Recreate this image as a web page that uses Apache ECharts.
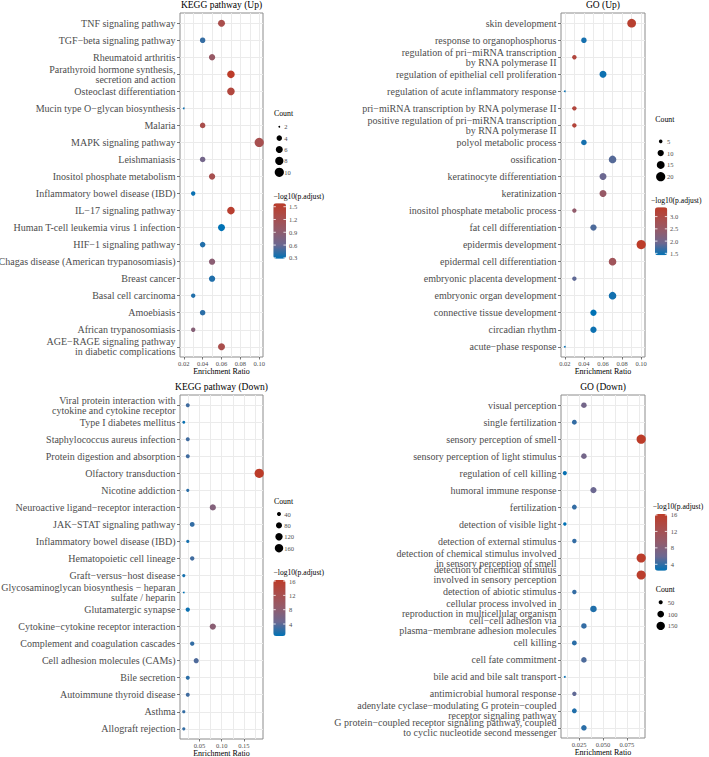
<!DOCTYPE html>
<html><head><meta charset="utf-8">
<script src="https://cdn.jsdelivr.net/npm/echarts@6/dist/echarts.min.js"></script>
<style>html,body{margin:0;padding:0;background:#fff}#c{width:709px;height:757px}</style>
</head><body><div id="c"></div><script>
// ---------- KEGG pathway (Up) ----------
const kuCats = ["TNF signaling pathway","TGF\u2212beta signaling pathway","Rheumatoid arthritis","Parathyroid hormone synthesis,\nsecretion and action","Osteoclast differentiation","Mucin type O\u2212glycan biosynthesis","Malaria","MAPK signaling pathway","Leishmaniasis","Inositol phosphate metabolism","Inflammatory bowel disease (IBD)","IL\u221217 signaling pathway","Human T-cell leukemia virus 1 infection","HIF\u22121 signaling pathway","Chagas disease (American trypanosomiasis)","Breast cancer","Basal cell carcinoma","Amoebiasis","African trypanosomiasis","AGE\u2212RAGE signaling pathway\nin diabetic complications"];
const kuRatio = [0.06,0.04,0.05,0.07,0.07,0.02,0.04,0.10,0.04,0.05,0.03,0.07,0.06,0.04,0.05,0.05,0.03,0.04,0.03,0.06];
const kuCount = [6,4,5,7,7,2,4,10,4,5,3,7,6,4,5,5,3,4,3,6];
const kuLogP  = [1.26,0.44,1.0,1.58,1.39,0.33,1.26,1.22,0.67,1.22,0.31,1.52,0.28,0.38,0.87,0.38,0.38,0.41,0.83,1.26];
const kuXTicks = [0.02,0.04,0.06,0.08,0.10];
const kuCntBreaks = [2,4,6,8,10];
const kuColBreaks = [0.3,0.6,0.9,1.2,1.5];

// ---------- GO (Up) ----------
const guCats = ["skin development","response to organophosphorus","regulation of pri\u2212miRNA transcription\nby RNA polymerase II","regulation of epithelial cell proliferation","regulation of acute inflammatory response","pri\u2212miRNA transcription by RNA polymerase II","positive regulation of pri\u2212miRNA transcription\nby RNA polymerase II","polyol metabolic process","ossification","keratinocyte differentiation","keratinization","inositol phosphate metabolic process","fat cell differentiation","epidermis development","epidermal cell differentiation","embryonic placenta development","embryonic organ development","connective tissue development","circadian rhythm","acute\u2212phase response"];
const guRatio = [0.09,0.04,0.03,0.06,0.02,0.03,0.03,0.04,0.07,0.06,0.06,0.03,0.05,0.10,0.07,0.03,0.07,0.05,0.05,0.02];
const guCount = [18,8,6,12,4,6,6,8,14,12,12,6,10,20,14,6,14,10,10,4];
const guLogP  = [3.28,1.52,3.09,1.48,1.46,3.09,3.15,1.52,1.81,1.91,2.5,2.4,1.77,3.38,2.69,1.85,1.5,1.42,1.48,1.46];
const guXTicks = [0.02,0.04,0.06,0.08,0.10];
const guCntBreaks = [5,10,15,20];
const guColBreaks = [1.5,2.0,2.5,3.0];

// ---------- KEGG pathway (Down) ----------
const kdCats = ["Viral protein interaction with\ncytokine and cytokine receptor","Type I diabetes mellitus","Staphylococcus aureus infection","Protein digestion and absorption","Olfactory transduction","Nicotine addiction","Neuroactive ligand\u2212receptor interaction","JAK\u2212STAT signaling pathway","Inflammatory bowel disease (IBD)","Hematopoietic cell lineage","Graft\u2212versus\u2212host disease","Glycosaminoglycan biosynthesis \u2212 heparan\nsulfate / heparin","Glutamatergic synapse","Cytokine\u2212cytokine receptor interaction","Complement and coagulation cascades","Cell adhesion molecules (CAMs)","Bile secretion","Autoimmune thyroid disease","Asthma","Allograft rejection"];
const kdRatio = [0.0236,0.0146,0.0236,0.0236,0.1845,0.0236,0.08,0.0336,0.0236,0.0336,0.0146,0.0146,0.0236,0.08,0.0336,0.0426,0.0236,0.0236,0.0146,0.0146];
const kdCount = [40,29,40,40,194,31,85,52,31,45,31,25,45,85,45,59,40,40,31,31];
const kdLogP  = [3.0,1.0,3.0,3.0,16.3,2.2,6.9,2.5,1.4,3.0,1.4,0.65,1.1,7.7,2.5,3.5,2.2,3.0,2.5,2.5];
const kdXTicks = [0.05,0.10,0.15];
const kdCntBreaks = [40,80,120,160];
const kdColBreaks = [4,8,12,16];

// ---------- GO (Down) ----------
const gdCats = ["visual perception","single fertilization","sensory perception of smell","sensory perception of light stimulus","regulation of cell killing","humoral immune response","fertilization","detection of visible light","detection of external stimulus","detection of chemical stimulus involved\nin sensory perception of smell","detection of chemical stimulus\ninvolved in sensory perception","detection of abiotic stimulus","cellular process involved in\nreproduction in multicellular organism","cell\u2212cell adhesion via\nplasma\u2212membrane adhesion molecules","cell killing","cell fate commitment","bile acid and bile salt transport","antimicrobial humoral response","adenylate cyclase\u2212modulating G protein\u2212coupled\nreceptor signaling pathway","G protein\u2212coupled receptor signaling pathway, coupled\nto cyclic nucleotide second messenger"];
const gdRatio = [0.03,0.02,0.09,0.03,0.01,0.04,0.02,0.01,0.02,0.09,0.09,0.02,0.04,0.03,0.02,0.03,0.01,0.02,0.02,0.03];
const gdCount = [72,61,180,72,50,88,61,43,54,180,178,54,96,72,61,72,36,54,61,72];
const gdLogP  = [6.6,4.1,16.24,6.6,2.7,5.9,4.1,2.44,4.1,16.0,15.9,4.1,3.5,4.1,3.8,4.9,2.7,5.5,3.5,3.8];
const gdXTicks = [0.025,0.05,0.075];
const gdCntBreaks = [50,100,150];
const gdColBreaks = [4,8,12,16];

// ---------- styling / layout ----------
const FONT = "'Liberation Serif','Times New Roman',serif";
const COLORS = ['#0072B5','#6C6891','#925C6C','#A94E4D','#BC3C29'];
const DMIN = 1.8, DMAX = 9.2;

const panels = [
  {title:'KEGG pathway (Up)', cats:kuCats, ratio:kuRatio, count:kuCount, logp:kuLogP, xt:kuXTicks, xd:2, cb:kuCntBreaks, kb:kuColBreaks, kd:1,
   box:[180,13,263,357], titleY:5,
   cnt:{tx:274, ty:113.5, dx:279.3, lx:284.3, y0:126.7, dy:11.4},
   col:{tx:273.5, ty:196.3, bx:273.3, by:203.3, bw:12.7, bh:55.4, lx:289}},
  {title:'GO (Up)', cats:guCats, ratio:guRatio, count:guCount, logp:guLogP, xt:guXTicks, xd:2, cb:guCntBreaks, kb:guColBreaks, kd:1,
   box:[561,13,645,357], titleY:5,
   cnt:{tx:655.3, ty:119, dx:660.7, lx:667, y0:141.3, dy:11.8},
   col:{tx:651, ty:200, bx:655, by:207.3, bw:12.3, bh:48, lx:670}},
  {title:'KEGG pathway (Down)', cats:kdCats, ratio:kdRatio, count:kdCount, logp:kdLogP, xt:kdXTicks, xd:2, cb:kdCntBreaks, kb:kdColBreaks, kd:0,
   box:[180,395,263,739], titleY:386.5,
   cnt:{tx:274, ty:501, dx:279, lx:284.3, y0:514, dy:11.4},
   col:{tx:273.5, ty:572.3, bx:273.3, by:580, bw:12.3, bh:56, lx:289}},
  {title:'GO (Down)', cats:gdCats, ratio:gdRatio, count:gdCount, logp:gdLogP, xt:gdXTicks, xd:3, cb:gdCntBreaks, kb:gdColBreaks, kd:0,
   box:[561,395,645,738], titleY:386.5,
   cnt:{tx:655.7, ty:589.3, dx:660.7, lx:667.7, y0:602.3, dy:11.8},
   col:{tx:652.7, ty:506.7, bx:655, by:514, bw:12.3, bh:56.7, lx:670.7}}
];

const option = {animation:false, backgroundColor:'#fff', grid:[], xAxis:[], yAxis:[], series:[], visualMap:[], graphic:[]};
const noLine = {show:false, onZero:false};

panels.forEach((p, k) => {
  const [l, t, r, b] = p.box;
  const n = p.cats.length;
  const xlo = Math.min(...p.ratio), xhi = Math.max(...p.ratio);
  const xmin = xlo - 0.05 * (xhi - xlo), xmax = xhi + 0.05 * (xhi - xlo);
  const step = p.xt[1] - p.xt[0];
  const allX = [];
  for (let v = p.xt[0] - step / 2; v <= xmax + 1e-9; v += step / 2) {
    if (v >= xmin - 1e-9) allX.push(+v.toFixed(6));
  }
  const cmin = Math.min(...p.count), cmax = Math.max(...p.count);
  const sizeOf = c => DMIN + (DMAX - DMIN) * Math.sqrt(Math.max(0, (c - cmin) / (cmax - cmin)));
  const vmin = Math.min(...p.logp), vmax = Math.max(...p.logp);
  const idxs = p.cats.map((c, i) => i);
  const even = idxs.filter(i => i % 2 === 0), odd = idxs.filter(i => i % 2 === 1);
  const yLabel = (vals) => ({customValues:vals, formatter:v => p.cats[Math.round(v)], fontSize:10, lineHeight:10,
      fontFamily:FONT, color:'#4d4d4d', margin:4.5, showMinLabel:true, showMaxLabel:true, hideOverlap:false});

  option.grid.push({left:l, top:t, width:r - l, height:b - t, show:true, borderColor:'#8c8c8c', borderWidth:1,
    backgroundColor:'#fff', containLabel:false, outerBoundsMode:'none'});
  option.xAxis.push({type:'value', gridIndex:k, position:'top', min:xmin, max:xmax,
    axisLine:noLine, axisTick:{show:false, customValues:allX}, axisLabel:{show:false},
    splitLine:{show:true, lineStyle:{color:'#ebebeb', width:1}}});
  option.xAxis.push({type:'value', gridIndex:k, position:'bottom', min:xmin, max:xmax,
    axisLine:noLine,
    axisTick:{show:true, length:2.5, customValues:p.xt, lineStyle:{color:'#555', width:0.8}},
    axisLabel:{customValues:p.xt, formatter:v => v.toFixed(p.xd), fontSize:6.5, color:'#4d4d4d', fontFamily:FONT, margin:2.5,
      showMinLabel:true, showMaxLabel:true},
    splitLine:{show:false},
    name:'Enrichment Ratio', nameLocation:'middle', nameGap:10.5,
    nameTextStyle:{fontSize:8, fontFamily:FONT, color:'#000'}});
  option.yAxis.push({type:'value', gridIndex:k, position:'left', inverse:true, min:-0.6, max:n - 0.4,
    axisLine:noLine,
    axisTick:{show:true, length:3, customValues:idxs, lineStyle:{color:'#555', width:0.8}},
    axisLabel:yLabel(even),
    splitLine:{show:true, lineStyle:{color:'#ebebeb', width:1}}});
  option.yAxis.push({type:'value', gridIndex:k, position:'left', offset:0, inverse:true, min:-0.6, max:n - 0.4,
    axisLine:noLine, axisTick:{show:false, customValues:odd},
    axisLabel:yLabel(odd), splitLine:{show:false}});
  option.series.push({type:'scatter', xAxisIndex:2 * k + 1, yAxisIndex:2 * k, silent:true, z:5,
    data:p.cats.map((c, i) => [p.ratio[i], i, p.count[i], p.logp[i]]),
    symbolSize:v => sizeOf(v[2]), itemStyle:{opacity:1}});
  const C = p.col;
  option.visualMap.push({type:'continuous', seriesIndex:k, dimension:3, min:vmin, max:vmax,
    inRange:{color:COLORS}, orient:'vertical', left:C.bx, top:C.by, itemWidth:C.bw, itemHeight:C.bh,
    padding:0, calculable:false, hoverLink:false, text:null});

  const G = option.graphic;
  G.push({type:'text', x:(l + r) / 2, y:p.titleY, style:{text:p.title, fontSize:9.5, fontFamily:FONT, fill:'#000', align:'center', verticalAlign:'middle'}});
  const N = p.cnt;
  G.push({type:'text', x:N.tx, y:N.ty, style:{text:'Count', fontSize:7.8, fontFamily:FONT, fill:'#000', align:'left', verticalAlign:'middle'}});
  p.cb.forEach((v, i) => {
    const y = N.y0 + i * N.dy;
    G.push({type:'circle', shape:{cx:N.dx, cy:y, r:sizeOf(v) / 2}, style:{fill:'#000'}});
    G.push({type:'text', x:N.lx, y:y, style:{text:String(v), fontSize:6.5, fontFamily:FONT, fill:'#4d4d4d', align:'left', verticalAlign:'middle'}});
  });
  G.push({type:'text', x:C.tx, y:C.ty, style:{text:'\u2212log10(p.adjust)', fontSize:7.6, fontFamily:FONT, fill:'#000', align:'left', verticalAlign:'middle'}});
  p.kb.forEach(v => {
    const y = C.by + (vmax - v) / (vmax - vmin) * C.bh;
    G.push({type:'line', z:100, shape:{x1:C.bx, y1:y, x2:C.bx + C.bw * 0.2, y2:y}, style:{stroke:'#fff', lineWidth:0.8}});
    G.push({type:'line', z:100, shape:{x1:C.bx + C.bw * 0.8, y1:y, x2:C.bx + C.bw, y2:y}, style:{stroke:'#fff', lineWidth:0.8}});
    G.push({type:'text', x:C.lx, y:y, style:{text:v.toFixed(p.kd), fontSize:6.5, fontFamily:FONT, fill:'#4d4d4d', align:'left', verticalAlign:'middle'}});
  });
});

const chart = echarts.init(document.getElementById('c'), null, {renderer:'svg'});
chart.setOption(option);
</script></body></html>
